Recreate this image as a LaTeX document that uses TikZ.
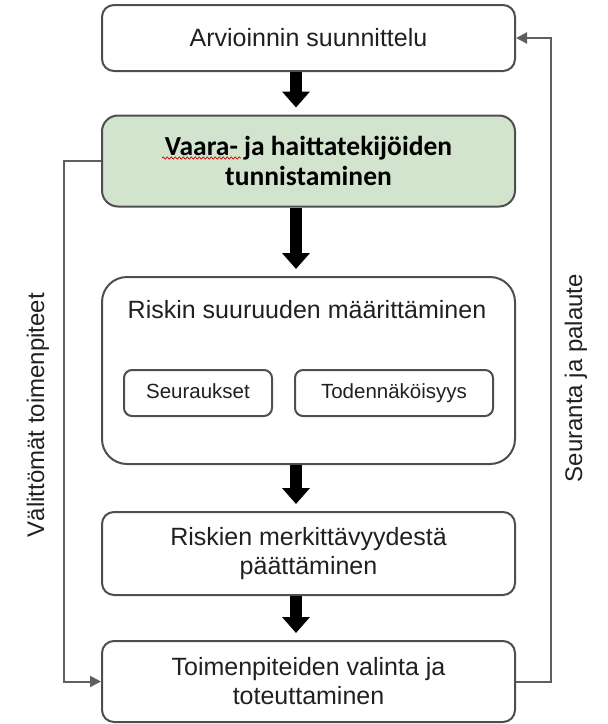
\documentclass[tikz,border=0pt]{standalone}
\usepackage{fontspec}
\setmainfont{Liberation Sans}
\newfontfamily\boldcal{Carlito}
\usetikzlibrary{arrows.meta,decorations.pathmorphing}
\definecolor{boxline}{RGB}{78,78,78}
\definecolor{linkgray}{RGB}{95,95,95}
\definecolor{idfill}{RGB}{211,228,206}
\definecolor{txt}{RGB}{32,32,32}
\begin{document}
\begin{tikzpicture}[x=1pt,y=-1pt,
  stage/.style={draw=boxline,line width=2pt,rounded corners=12pt,minimum width=413pt,
    align=center,text=txt,inner sep=0pt,font=\fontsize{25}{29}\selectfont},
  subbox/.style={draw=boxline,line width=2pt,rounded corners=8pt,minimum height=46pt,
    inner sep=0pt,text height=15pt,text depth=4pt,text=txt,font=\fontsize{20.5}{24}\selectfont},
  flow/.style={line width=12pt,-{Triangle[length=16pt,width=27pt]},shorten >=7pt},
  link/.style={draw=linkgray,line width=2pt},
  linkarrow/.style={link,-{Triangle[length=11pt,width=11pt]}},
  sidetext/.style={rotate=90,text=txt,font=\fontsize{24}{29}\selectfont}
]
\useasboundingbox (0,0) rectangle (608,724);

% process stages
\node[stage,minimum height=66pt] (plan) at (308.5,38) {Arvioinnin suunnittelu};
\node[stage,minimum height=91pt,fill=idfill,rounded corners=16pt,text=black,
  font=\boldcal\bfseries\fontsize{27.5}{30}\selectfont] (ident) at (308.5,161)
  {Vaara- ja haittatekijöiden\\tunnistaminen};
\node[stage,minimum height=187pt,rounded corners=25pt] (size) at (308.5,370.5) {};
\node[text=txt,font=\fontsize{25}{29}\selectfont] (sizetitle) at (307,310)
  {Riskin suuruuden määrittäminen};
\node[subbox,minimum width=148pt] (cons) at (198,393) {Seuraukset};
\node[subbox,minimum width=198pt] (prob) at (394,393) {Todennäköisyys};
\node[stage,minimum height=83pt] (signif) at (308.5,553.5)
  {Riskien merkittävyydestä\\päättäminen};
\node[stage,minimum height=81pt] (act) at (308.5,681.5)
  {Toimenpiteiden valinta ja\\toteuttaminen};

% spell-check mark under the first word
\draw[red!85!black,line width=0.7pt,decorate,
  decoration={snake,amplitude=1.1pt,segment length=4pt}] (162,158) -- (241,158);

% main flow
\draw[flow] ([xshift=-12.5pt]plan.south) -- ([xshift=-12.5pt]ident.north);
\draw[flow] ([xshift=-12.5pt]ident.south) -- ([xshift=-12.5pt]size.north);
\draw[flow] ([xshift=-12.5pt]size.south) -- ([xshift=-12.5pt]signif.north);
\draw[flow] ([xshift=-12.5pt]signif.south) -- ([xshift=-12.5pt]act.north);

% side loops
\coordinate (lx) at (64,0);
\coordinate (rx) at (551,0);
\draw[linkarrow] (ident.west) -- (ident.west -| lx) -- (act.west -| lx) -- (act.west);
\draw[linkarrow] (act.east) -- (act.east -| rx) -- (plan.east -| rx) -- (plan.east);

\node[sidetext] (immediate) at (38,415) {Välittömät toimenpiteet};
\node[sidetext] (follow) at (576,378) {Seuranta ja palaute};
\end{tikzpicture}
\end{document}
